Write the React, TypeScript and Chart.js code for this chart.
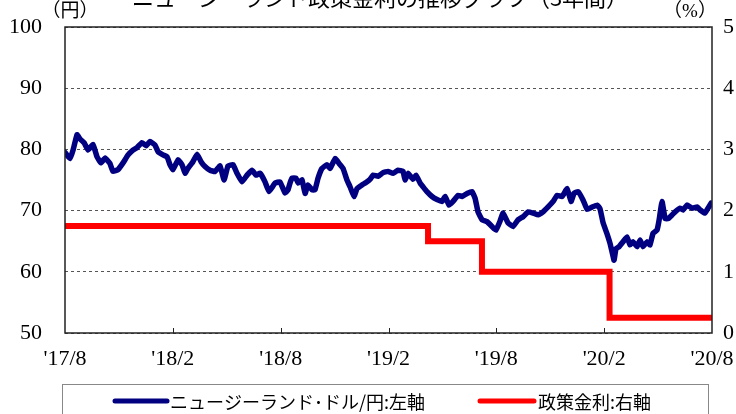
import React, { useEffect, useRef } from "react";
import { Chart, registerables } from "chart.js";

Chart.register(...registerables);

const titleText = "ニュージーランド政策金利の推移グラフ（3年間）";
const leftUnit = "（円）";
const rightUnit = "（%）";
const xTickLabels = ["'17/8", "'18/2", "'18/8", "'19/2", "'19/8", "'20/2", "'20/8"];
const legendFx = "ニュージーランド･ドル/円:左軸";
const legendRate = "政策金利:右軸";

// months since Aug 2017
const fxMonths = [
  0, 0.28, 0.45, 0.67, 0.83, 1.06, 1.28, 1.56, 1.78, 2.0, 2.23, 2.5, 2.67, 2.95, 3.23, 3.51, 3.78, 4.01,
  4.28, 4.51, 4.73, 5.01, 5.18, 5.45, 5.68, 5.84, 6.01, 6.29, 6.51, 6.68, 6.84, 7.12, 7.35, 7.57, 7.79,
  8.07, 8.35, 8.63, 8.85, 9.07, 9.35, 9.57, 9.85, 10.13, 10.41, 10.63, 10.85, 11.13, 11.35, 11.69, 11.96,
  12.24, 12.41, 12.52, 12.63, 12.85, 12.97, 13.19, 13.36, 13.52, 13.74, 13.91, 14.08, 14.3, 14.58, 14.75,
  15.03, 15.25, 15.47, 15.69, 15.86, 16.08, 16.25, 16.53, 16.75, 16.97, 17.14, 17.42, 17.7, 17.97, 18.25,
  18.53, 18.81, 18.92, 19.09, 19.37, 19.53, 19.76, 19.92, 20.14, 20.42, 20.7, 20.98, 21.15, 21.37, 21.59,
  21.87, 22.09, 22.37, 22.65, 22.82, 22.98, 23.21, 23.48, 23.76, 23.98, 24.21, 24.37, 24.65, 24.93, 25.21,
  25.49, 25.77, 26.04, 26.32, 26.6, 26.88, 27.16, 27.38, 27.66, 27.94, 28.16, 28.32, 28.55, 28.83, 29.05,
  29.33, 29.61, 29.77, 29.94, 30.16, 30.33, 30.5, 30.55, 30.66, 30.83, 31.05, 31.27, 31.44, 31.61, 31.83,
  32.0, 32.16, 32.39, 32.55, 32.72, 32.94, 33.06, 33.22, 33.39, 33.56, 33.78, 33.95, 34.22, 34.39, 34.61,
  34.89, 35.17, 35.34, 35.61, 35.78, 35.95,
];
const fxValues = [
  79.5, 78.5, 79.9, 82.4, 81.7, 81.1, 79.9, 80.8, 78.8, 77.8, 78.6, 77.7, 76.4, 76.7, 77.8, 79.1, 79.9, 80.3,
  81.1, 80.6, 81.3, 80.7, 79.6, 79.1, 78.8, 77.5, 76.7, 78.3, 77.5, 76.1, 76.9, 78.0, 79.2, 78.0, 77.2,
  76.6, 76.4, 77.3, 75.0, 77.3, 77.5, 76.1, 74.7, 75.8, 76.6, 75.8, 76.1, 74.7, 73.1, 74.5, 74.7,
  72.9, 73.4, 74.5, 75.3, 75.3, 74.5, 75.0, 72.8, 74.2, 73.4, 73.4, 75.3, 76.9, 77.5, 76.9,
  78.5, 77.7, 76.9, 75.0, 73.9, 72.3, 73.6, 74.2, 74.6, 75.1, 75.8, 75.6, 76.2, 76.4, 76.1,
  76.6, 76.4, 75.0, 76.1, 75.1, 75.8, 74.5, 73.9, 73.1, 72.3, 71.8, 71.5, 72.3, 70.9, 71.5,
  72.5, 72.3, 72.8, 73.1, 72.0, 69.8, 68.5, 68.2, 67.4, 66.8, 68.3, 69.6, 68.0, 67.4, 68.5,
  69.0, 69.8, 69.6, 69.3, 69.8, 70.6, 71.5, 72.5, 72.3, 73.6, 71.5, 72.8, 73.1, 71.7, 70.2,
  70.6, 70.9, 70.3, 68.0, 66.2, 64.6, 62.5, 61.9, 63.8, 64.1, 64.9, 65.7, 64.4, 64.9, 64.1,
  65.2, 64.1, 64.9, 64.4, 66.3, 66.8, 68.5, 71.5, 68.7, 68.7, 69.3, 69.8, 70.4, 70.1, 70.9,
  70.4, 70.6, 70.1, 69.6, 70.4, 71.2,
];

const rateMonths = [0, 20.2, 23.2, 30.3, 36];
const rateValues = [1.75, 1.5, 1.0, 0.25, 0.25];

const serif = "'Liberation Serif', 'Times New Roman', 'Noto Sans CJK JP', serif";
const gothic = "'Noto Sans CJK JP', sans-serif";

const overlayPlugin = {
  id: "overlay",
  afterDraw(chart: any) {
    const { ctx, chartArea } = chart;
    const { left, right, top, bottom } = chartArea;
    const xs = chart.scales.x;
    ctx.save();
    // frame
    ctx.strokeStyle = "#222";
    ctx.lineWidth = 1.5;
    ctx.strokeRect(left, top, right - left, bottom - top);
    // inward ticks on bottom axis
    ctx.lineWidth = 1;
    for (let i = 1; i < xTickLabels.length - 1; i++) {
      const px = Math.round(xs.getPixelForValue(i * 6)) + 0.5;
      ctx.beginPath();
      ctx.moveTo(px, bottom);
      ctx.lineTo(px, bottom - 5);
      ctx.stroke();
    }
    // title
    ctx.fillStyle = "#000";
    ctx.textAlign = "center";
    ctx.textBaseline = "middle";
    ctx.font = `22px ${gothic}`;
    ctx.fillText(titleText, 380, -2);
    // units
    ctx.font = `19px ${serif}`;
    ctx.fillText(leftUnit, 70, 12);
    ctx.fillText(rightUnit, 690, 12);
    // legend box
    ctx.strokeStyle = "#888";
    ctx.lineWidth = 1;
    ctx.strokeRect(62.5, 384.5, 646, 40);
    ctx.lineCap = "round";
    ctx.lineWidth = 5;
    ctx.strokeStyle = "#000080";
    ctx.beginPath();
    ctx.moveTo(115, 401);
    ctx.lineTo(167, 401);
    ctx.stroke();
    ctx.strokeStyle = "#ff0000";
    ctx.beginPath();
    ctx.moveTo(480, 401);
    ctx.lineTo(534, 401);
    ctx.stroke();
    ctx.font = `18px ${gothic}`;
    ctx.textAlign = "left";
    ctx.fillStyle = "#000";
    ctx.fillText(legendFx, 170, 402);
    ctx.fillText(legendRate, 538, 402);
    ctx.restore();
  },
};

export default function App() {
  const ref = useRef<HTMLCanvasElement>(null);
  useEffect(() => {
    document.body.style.margin = "0";
    const fxData = fxMonths.map((m, i) => ({ x: m, y: fxValues[i] }));
    const rateData = rateMonths.map((m, i) => ({ x: m, y: rateValues[i] }));
    const chart = new Chart(ref.current!, {
      type: "line",
      data: {
        datasets: [
          {
            label: legendFx,
            data: fxData,
            yAxisID: "y",
            borderColor: "#000080",
            borderWidth: 5.5,
            pointRadius: 0,
            tension: 0.1,
            borderJoinStyle: "round",
            borderCapStyle: "round",
          },
          {
            label: legendRate,
            data: rateData,
            yAxisID: "y2",
            borderColor: "#ff0000",
            borderWidth: 6,
            pointRadius: 0,
            stepped: "before",
          },
        ],
      },
      options: {
        animation: false,
        responsive: false,
        parsing: false as any,
        layout: { padding: { top: 27, left: 0, right: 0, bottom: 0 } },
        plugins: { legend: { display: false }, tooltip: { enabled: false } },
        scales: {
          x: {
            type: "linear",
            min: 0,
            max: 36,
            afterFit: (s: any) => {
              s.height = 81;
              s.paddingLeft = 0;
              s.paddingRight = 0;
            },
            afterBuildTicks: (s: any) => {
              s.ticks = xTickLabels.map((_, i) => ({ value: i * 6 }));
            },
            ticks: {
              autoSkip: false,
              maxRotation: 0,
              padding: 13,
              color: "#000",
              font: { family: serif, size: 22 },
              callback: (v: any) => xTickLabels[Math.round(v / 6)],
            },
            grid: { display: false, drawTicks: false },
            border: { display: false },
          },
          y: {
            position: "left",
            min: 50,
            max: 100,
            afterFit: (s: any) => {
              s.width = 65;
              s.paddingTop = 0;
              s.paddingBottom = 0;
            },
            ticks: {
              stepSize: 10,
              padding: 23,
              color: "#000",
              font: { family: serif, size: 22 },
            },
            grid: { color: "#555", lineWidth: 1, drawTicks: false },
            border: { display: false, dash: [3, 3] },
          },
          y2: {
            position: "right",
            min: 0,
            max: 5,
            afterFit: (s: any) => {
              s.width = 24;
              s.paddingTop = 0;
              s.paddingBottom = 0;
            },
            ticks: {
              stepSize: 1,
              padding: 11,
              color: "#000",
              font: { family: serif, size: 22 },
            },
            grid: { drawOnChartArea: false, drawTicks: false },
            border: { display: false },
          },
        },
      },
      plugins: [overlayPlugin],
    });
    return () => chart.destroy();
  }, []);
  return (
    <div style={{ position: "absolute", left: 0, top: 0, width: 736, height: 414 }}>
      <canvas ref={ref} width={736} height={414} style={{ display: "block" }} />
    </div>
  );
}
